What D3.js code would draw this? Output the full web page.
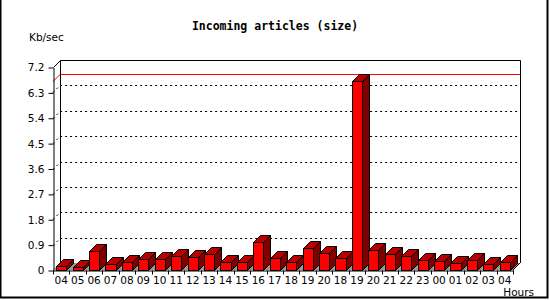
<!DOCTYPE html>
<html><head><meta charset="utf-8">
<script src="https://cdn.jsdelivr.net/npm/d3@7"></script>
<style>body{margin:0;background:#fff}svg{display:block}</style>
</head><body>
<script>
const hours = ["04","05","06","07","08","09","10","11","12","13","14","15","16","17","18","19","20","18","19","20","21","22","23","00","01","02","03","04"];
const values = [0.13,0.10,0.67,0.21,0.28,0.39,0.39,0.49,0.46,0.57,0.28,0.28,0.99,0.42,0.28,0.78,0.60,0.42,6.70,0.70,0.57,0.48,0.35,0.32,0.25,0.34,0.20,0.27];
const yTicks = [0,0.9,1.8,2.7,3.6,4.5,5.4,6.3,7.2];
const title = "Incoming articles (size)";
const yTitle = "Kb/sec";
const xTitle = "Hours";

const W=550,H=300, D=7;
const pLeft=53, pRight=513, pBase=270, pTop=67;
const svg=d3.select("body").append("svg").attr("width",W).attr("height",H);
const x=d3.scaleBand().domain(d3.range(hours.length)).range([pLeft,pRight]).paddingInner(0.39).paddingOuter(0.195);
const y=d3.scaleLinear().domain([0,7.2]).range([pBase,pTop]);
const font="DejaVu Sans, sans-serif";
const fs="10.5px";

// outer frame
svg.append("path").attr("d",`M0.5,0 V297.5 H547.5 V0`).attr("fill","none").attr("stroke","#000").attr("stroke-width",2);

// titles
svg.append("text").attr("x",275).attr("y",30).attr("text-anchor","middle")
  .style("font-family","DejaVu Sans Mono, monospace").style("font-weight","bold").style("font-size","11.5px").text(title);
svg.append("text").attr("x",29).attr("y",41).style("font-family",font).style("font-size",fs).text(yTitle);
svg.append("text").attr("x",534).attr("y",296).attr("text-anchor","end").style("font-family",font).style("font-size",fs).text(xTitle);

const g=svg.append("g");
// floor
g.append("path").attr("d",`M${pLeft},${pBase}L${pLeft+D},${pBase-D}L${pRight+D},${pBase-D}L${pRight},${pBase}Z`).attr("fill","#999");
// gridlines (side wall + back wall)
g.selectAll(".grid").data(yTicks.filter(v=>v>0&&v<7.2)).join("path")
  .attr("d",v=>`M${pLeft},${Math.round(y(v))+0.5}L${pLeft+D},${Math.round(y(v))-D+0.5}H${pRight+D}`)
  .attr("fill","none").attr("stroke","#000").attr("stroke-dasharray","2,3");
// max line
const maxV=d3.max(values);
g.append("path").attr("d",`M${pLeft},${Math.round(y(maxV))+0.5}L${pLeft+D},${Math.round(y(maxV))-D+0.5}H${pRight+D}`)
  .attr("fill","none").attr("stroke","#f00");
// back wall frame
g.append("path").attr("d",`M${pLeft+D+0.5},${pBase-D}V${pTop-D+0.5}H${pRight+D+0.5}V${pBase-D}`).attr("fill","none").attr("stroke","#000");
g.append("path").attr("d",`M${pLeft+0.5},${pTop+0.5}L${pLeft+D+0.5},${pTop-D+0.5}`).attr("fill","none").attr("stroke","#000");
g.append("path").attr("d",`M${pRight},${pBase}L${pRight+D},${pBase-D}`).attr("fill","none").attr("stroke","#000");

// bars
const bars=g.selectAll(".bar").data(values).join("g");
bars.each(function(v,i){
  const s=d3.select(this);
  const x0=Math.round(x(i))+0.5, x1=Math.round(x(i)+x.bandwidth())+0.5;
  const yt=Math.round(y(v))+0.5, yb=pBase+0.5;
  s.append("path").attr("d",`M${x1},${yt}L${x1+D},${yt-D}V${yb-D}L${x1},${yb}Z`).attr("fill","#800000").attr("stroke","#000");
  s.append("path").attr("d",`M${x0},${yt}L${x0+D},${yt-D}H${x1+D}L${x1},${yt}Z`).attr("fill","#b80000").attr("stroke","#000");
  s.append("rect").attr("x",x0).attr("y",yt).attr("width",x1-x0).attr("height",yb-yt).attr("fill","#f00").attr("stroke","#000");
});

// y axis
const ya=svg.append("g").attr("transform",`translate(${pLeft+0.5},0.5)`)
  .call(d3.axisLeft(y).tickValues(yTicks).tickSize(5).tickSizeOuter(0).tickPadding(4).tickFormat(d=>d===0?"0":d3.format(".1f")(d)));
ya.selectAll("text").style("font-family",font).style("font-size",fs).attr("fill","#000");
ya.selectAll("line,path").attr("stroke","#000");

// x axis
const xa=svg.append("g").attr("transform",`translate(0,${pBase+0.5})`)
  .call(d3.axisBottom(x).tickSize(0).tickSizeOuter(0).tickPadding(6).tickFormat(i=>hours[i]));
xa.selectAll("text").style("font-family",font).style("font-size",fs).attr("fill","#000");
xa.select(".domain").attr("stroke","#000");
xa.selectAll(".bound").data(d3.range(hours.length+1)).join("line").attr("class","bound")
  .attr("x1",i=>Math.round(pLeft+i*x.step())+0.5).attr("x2",i=>Math.round(pLeft+i*x.step())+0.5)
  .attr("y1",0).attr("y2",4).attr("stroke","#000");
</script>
</body></html>
